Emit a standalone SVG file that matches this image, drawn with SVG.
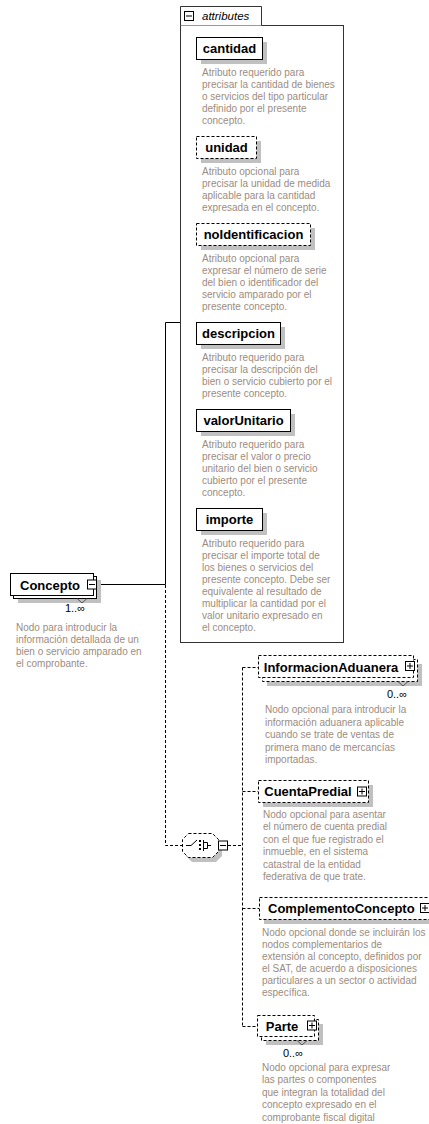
<svg xmlns="http://www.w3.org/2000/svg" xmlns:xlink="http://www.w3.org/1999/xlink" width="429" height="1124" viewBox="0 0 429 1124">
<style>
.bx{fill:#fff;stroke:#000;stroke-width:1}
.opt{stroke-dasharray:3,2}
.sh{fill:#c0c0c0}
.lbl{font-family:"Liberation Sans",Arial,sans-serif;font-weight:bold;font-size:13px;fill:#000}
.desc{font-family:"Liberation Sans",Arial,sans-serif;font-size:10px;fill:#9c8c80}
.occ{font-family:"Liberation Sans",Arial,sans-serif;font-size:11px;fill:#000}
.ln{stroke:#000;fill:none}
.dl{stroke:#000;fill:none;stroke-dasharray:3,2}
</style>
<defs>
<g id="plus"><rect x="0.5" y="0.5" width="9" height="9" fill="#fff" stroke="#000"/><path d="M2,5H8M5,2V8" stroke="#000"/></g>
<g id="minus"><rect x="0.5" y="0.5" width="9" height="9" fill="#fff" stroke="#000"/><path d="M2,5H8" stroke="#000"/></g>
</defs>

<g id="connectors">
<path class="ln" d="M97,584.5H165.5V322.5H180"/>
<path class="dl" d="M165.5,585V845.5H182"/>
<path class="dl" d="M228,845.5H242.5"/>
<path class="dl" d="M242.5,667.5V1026.5"/>
<path class="dl" d="M242.5,667.5H258"/>
<path class="dl" d="M242.5,791.5H258"/>
<path class="dl" d="M242.5,908.5H259"/>
<path class="dl" d="M242.5,1026.5H257"/>
</g>

<g id="attributes">
<rect class="bx" x="180.5" y="25.5" width="163" height="617" style="stroke:#333"/>
<path d="M180.5,25.5V6.5H261.5V25.5" fill="#fff" stroke="#333"/>
<use xlink:href="#minus" x="184" y="11"/>
<text x="202" y="20" style="font-family:'Liberation Sans',Arial,sans-serif;font-style:italic;font-size:11.5px;fill:#000">attributes</text>
</g>

<g id="cantidad">
<rect class="sh" x="201" y="42" width="66" height="22"/>
<rect class="bx" x="196.5" y="37.5" width="66" height="22"/>
<text class="lbl" x="229.5" y="53" text-anchor="middle">cantidad</text>
<text class="desc"><tspan x="202" y="76">Atributo requerido para</tspan><tspan x="202" y="88">precisar la cantidad de bienes</tspan><tspan x="202" y="100">o servicios del tipo particular</tspan><tspan x="202" y="112">definido por el presente</tspan><tspan x="202" y="124">concepto.</tspan></text>
</g>

<g id="unidad">
<rect class="sh" x="201" y="141" width="60" height="22"/>
<rect class="bx opt" x="196.5" y="136.5" width="60" height="22"/>
<text class="lbl" x="226.5" y="152" text-anchor="middle">unidad</text>
<text class="desc"><tspan x="202" y="175">Atributo opcional para</tspan><tspan x="202" y="187">precisar la unidad de medida</tspan><tspan x="202" y="199">aplicable para la cantidad</tspan><tspan x="202" y="211">expresada en el concepto.</tspan></text>
</g>

<g id="noIdentificacion">
<rect class="sh" x="201" y="228" width="114" height="22"/>
<rect class="bx opt" x="196.5" y="223.5" width="114" height="22"/>
<text class="lbl" x="253.5" y="239" text-anchor="middle">noIdentificacion</text>
<text class="desc"><tspan x="202" y="262">Atributo opcional para</tspan><tspan x="202" y="274">expresar el número de serie</tspan><tspan x="202" y="286">del bien o identificador del</tspan><tspan x="202" y="298">servicio amparado por el</tspan><tspan x="202" y="310">presente concepto.</tspan></text>
</g>

<g id="descripcion">
<rect class="sh" x="201" y="327" width="84" height="22"/>
<rect class="bx" x="196.5" y="322.5" width="84" height="22"/>
<text class="lbl" x="238.5" y="338" text-anchor="middle">descripcion</text>
<text class="desc"><tspan x="202" y="361">Atributo requerido para</tspan><tspan x="202" y="373">precisar la descripción del</tspan><tspan x="202" y="385">bien o servicio cubierto por el</tspan><tspan x="202" y="397">presente concepto.</tspan></text>
</g>

<g id="valorUnitario">
<rect class="sh" x="201" y="414" width="94" height="22"/>
<rect class="bx" x="196.5" y="409.5" width="94" height="22"/>
<text class="lbl" x="243.5" y="425" text-anchor="middle">valorUnitario</text>
<text class="desc"><tspan x="202" y="448">Atributo requerido para</tspan><tspan x="202" y="460">precisar el valor o precio</tspan><tspan x="202" y="472">unitario del bien o servicio</tspan><tspan x="202" y="484">cubierto por el presente</tspan><tspan x="202" y="496">concepto.</tspan></text>
</g>

<g id="importe">
<rect class="sh" x="201" y="513" width="66" height="22"/>
<rect class="bx" x="196.5" y="508.5" width="66" height="22"/>
<text class="lbl" x="229.5" y="524" text-anchor="middle">importe</text>
<text class="desc"><tspan x="202" y="547">Atributo requerido para</tspan><tspan x="202" y="559">precisar el importe total de</tspan><tspan x="202" y="571">los bienes o servicios del</tspan><tspan x="202" y="583">presente concepto. Debe ser</tspan><tspan x="202" y="595">equivalente al resultado de</tspan><tspan x="202" y="607">multiplicar la cantidad por el</tspan><tspan x="202" y="619">valor unitario expresado en</tspan><tspan x="202" y="631">el concepto.</tspan></text>
</g>

<g id="Concepto">
<rect class="sh" x="18" y="580" width="83" height="23"/>
<rect class="bx" x="13.5" y="576.5" width="83" height="22"/>
<rect class="bx" x="10.5" y="573.5" width="83" height="22"/>
<path class="ln" d="M77,598.5L82,603L87,598.5" style="stroke:#555"/>
<text class="lbl" x="50" y="589.5" text-anchor="middle">Concepto</text>
<use xlink:href="#minus" x="87" y="579.5"/>
<text class="occ" x="85" y="612" text-anchor="end">1..∞</text>
<text class="desc"><tspan x="16" y="631">Nodo para introducir la</tspan><tspan x="16" y="643">información detallada de un</tspan><tspan x="16" y="655">bien o servicio amparado en</tspan><tspan x="16" y="667">el comprobante.</tspan></text>
</g>

<g id="choice">
<path class="sh" d="M192,838H216L222,844V856L216,862H192L186,856V844Z"/>
<path class="bx opt" d="M188.5,833.5H212.5L218.5,839.5V851.5L212.5,857.5H188.5L182.5,851.5V839.5Z"/>
<path class="ln" d="M186,845.5H191L197,840"/>
<rect x="199" y="840" width="2" height="2" fill="#000"/>
<rect x="199" y="844" width="2" height="2" fill="#000"/>
<rect x="199" y="848" width="2" height="2" fill="#000"/>
<path class="ln" d="M203.5,840V851M203.5,842.5H207.5V848.5H203.5M207.5,845.5H211"/>
<use xlink:href="#minus" x="218" y="840.5"/>
</g>

<g id="InformacionAduanera">
<rect class="sh" x="267" y="664" width="155" height="22"/>
<rect class="bx opt" x="262.5" y="659.5" width="155" height="22"/>
<rect class="bx opt" x="258.5" y="655.5" width="155" height="22"/>
<path class="ln" d="M398,681.5L403,686L408,681.5" style="stroke:#555"/>
<text class="lbl" x="331" y="672" text-anchor="middle">InformacionAduanera</text>
<use xlink:href="#plus" x="405" y="661"/>
<text class="occ" x="407" y="698" text-anchor="end">0..∞</text>
<text class="desc"><tspan x="265" y="713">Nodo opcional para introducir la</tspan><tspan x="265" y="725.5">información aduanera aplicable</tspan><tspan x="265" y="738">cuando se trate de ventas de</tspan><tspan x="265" y="750.5">primera mano de mercancías</tspan><tspan x="265" y="763">importadas.</tspan></text>
</g>

<g id="CuentaPredial">
<rect class="sh" x="263" y="785" width="110" height="22"/>
<rect class="bx opt" x="258.5" y="780.5" width="110" height="22"/>
<text class="lbl" x="308" y="796" text-anchor="middle">CuentaPredial</text>
<use xlink:href="#plus" x="357" y="786.5"/>
<text class="desc"><tspan x="263" y="818">Nodo opcional para asentar</tspan><tspan x="263" y="830.4">el número de cuenta predial</tspan><tspan x="263" y="842.8">con el que fue registrado el</tspan><tspan x="263" y="855.2">inmueble, en el sistema</tspan><tspan x="263" y="867.6">catastral de la entidad</tspan><tspan x="263" y="880">federativa de que trate.</tspan></text>
</g>

<g id="ComplementoConcepto">
<rect class="sh" x="264" y="902" width="170" height="22"/>
<rect class="bx opt" x="259.5" y="897.5" width="170" height="22"/>
<text class="lbl" x="268" y="913">ComplementoConcepto</text>
<use xlink:href="#plus" x="420" y="903"/>
<text class="desc"><tspan x="262" y="936">Nodo opcional donde se incluirán los</tspan><tspan x="262" y="948">nodos complementarios de</tspan><tspan x="262" y="960">extensión al concepto, definidos por</tspan><tspan x="262" y="972">el SAT, de acuerdo a disposiciones</tspan><tspan x="262" y="984">particulares a un sector o actividad</tspan><tspan x="262" y="996">específica.</tspan></text>
</g>

<g id="Parte">
<rect class="sh" x="266" y="1024" width="57" height="21"/>
<rect class="bx opt" x="261.5" y="1019.5" width="57" height="21"/>
<rect class="bx opt" x="257.5" y="1015.5" width="57" height="21"/>
<path class="ln" d="M297,1040.5L302,1045L307,1040.5" style="stroke:#555"/>
<text class="lbl" x="282" y="1031" text-anchor="middle">Parte</text>
<use xlink:href="#plus" x="307" y="1020.5"/>
<text class="occ" x="303" y="1057" text-anchor="end">0..∞</text>
<text class="desc"><tspan x="262" y="1071">Nodo opcional para expresar</tspan><tspan x="262" y="1083.4">las partes o componentes</tspan><tspan x="262" y="1095.8">que integran la totalidad del</tspan><tspan x="262" y="1108.2">concepto expresado en el</tspan><tspan x="262" y="1120.6">comprobante fiscal digital</tspan></text>
</g>
</svg>
